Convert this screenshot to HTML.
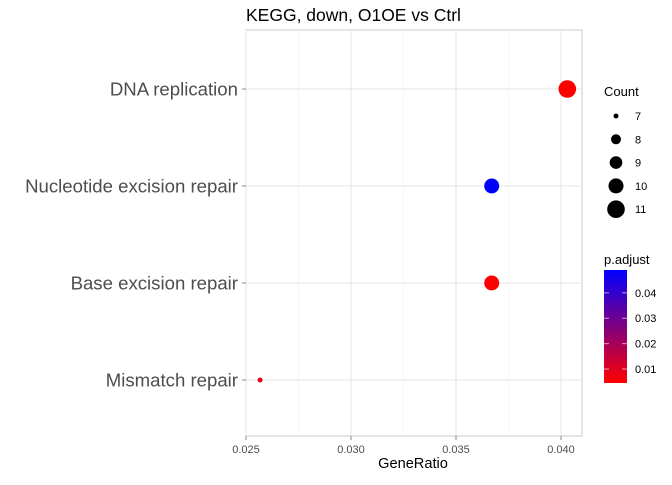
<!DOCTYPE html>
<html><head><meta charset="utf-8"><style>
body{margin:0;background:#fff;font-family:"Liberation Sans",sans-serif;}
</style></head><body>
<svg id="c" width="672" height="480" xmlns="http://www.w3.org/2000/svg">
<defs><linearGradient id="g" x1="0" y1="1" x2="0" y2="0"><stop offset="0" stop-color="#ff0000"/><stop offset="1" stop-color="#0000ff"/></linearGradient></defs>
</svg>
<script>
const categories=["DNA replication","Nucleotide excision repair","Base excision repair","Mismatch repair"];
const geneRatio=[0.0403,0.0367,0.0367,0.02567];
const counts=[11,10,10,7];
const padj=[0.0045,0.049,0.0045,0.008];
const xTicks=[0.025,0.030,0.035,0.040];
const sizeBreaks=[7,8,9,10,11];
const colorTicks=[0.01,0.02,0.03,0.04];
const svg=document.getElementById('c');const NS="http://www.w3.org/2000/svg";
function mk(t,a,p){const e=document.createElementNS(NS,t);for(const k in a)e.setAttribute(k,a[k]);(p||svg).appendChild(e);return e;}
const L=246,R=582,T=30,B=436;
const x=v=>246+(v-0.025)/0.005*105;
const y=i=>89+i*97;
const r=c=>[2.5,5,6.3,7.5,8.8][c-7];
const pmin=0.0045,pmax=0.049;
const col=p=>{const t=Math.max(0,Math.min(1,(p-pmin)/(pmax-pmin)));return `rgb(${Math.round(255*(1-t))},0,${Math.round(255*t)})`;};
let e=mk('rect',{x:L,y:T,width:R-L,height:B-T,fill:'#fff',stroke:'#c8c8c8','stroke-width':1});

for(let i=0;i<xTicks.length-1;i++){const m=(xTicks[i]+xTicks[i+1])/2;mk('line',{x1:x(m),x2:x(m),y1:T,y2:B,stroke:'#f0f0f0','stroke-width':0.6});}
xTicks.forEach(v=>{
 e=mk('line',{x1:x(v),x2:x(v),y1:T,y2:B,stroke:'#e4e4e4','stroke-width':1});
 
 mk('line',{x1:x(v),x2:x(v),y1:B,y2:B+4,stroke:'#888'});
 e=mk('text',{x:x(v),y:B+17,'text-anchor':'middle','font-size':11,fill:'#4d4d4d'});e.textContent=v.toFixed(3);
 
});
categories.forEach((c,i)=>{
 e=mk('line',{x1:L,x2:R,y1:y(i),y2:y(i),stroke:'#e4e4e4','stroke-width':1});
 
 mk('line',{x1:L-4,x2:L,y1:y(i),y2:y(i),stroke:'#888'});
 e=mk('text',{x:L-8,y:y(i)+6.5,'text-anchor':'end','font-size':18.6,fill:'#4d4d4d'});e.textContent=c;
 
});
categories.forEach((c,i)=>{
 e=mk('circle',{cx:x(geneRatio[i]),cy:y(i),r:r(counts[i]),fill:col(padj[i])});
 
});
e=mk('text',{x:246,y:21,'font-size':17.5,fill:'#000'});e.textContent='KEGG, down, O1OE vs Ctrl';

e=mk('text',{x:413,y:468,'text-anchor':'middle','font-size':14.6,fill:'#000'});e.textContent='GeneRatio';

e=mk('text',{x:604,y:96,'font-size':13,fill:'#000'});e.textContent='Count';

sizeBreaks.forEach((s,i)=>{
 const cy=116+i*23.3;
 e=mk('circle',{cx:616,cy:cy,r:r(s),fill:'#000'});
 
 e=mk('text',{x:635,y:cy+4,'font-size':11,fill:'#000'});e.textContent=s;
 
});
e=mk('text',{x:604,y:264,'font-size':13,fill:'#000'});e.textContent='p.adjust';

e=mk('rect',{x:604,y:270,width:23,height:113,fill:'url(#g)'});

const cy=p=>383-(p-pmin)/(pmax-pmin)*113;
colorTicks.forEach(p=>{
 mk('line',{x1:604,x2:609,y1:cy(p),y2:cy(p),stroke:'#fff','stroke-opacity':0.6});
 mk('line',{x1:622,x2:627,y1:cy(p),y2:cy(p),stroke:'#fff','stroke-opacity':0.6});
 e=mk('text',{x:635,y:cy(p)+4,'font-size':11,fill:'#000'});e.textContent=p.toFixed(2);
 
});
</script>
</body></html>
